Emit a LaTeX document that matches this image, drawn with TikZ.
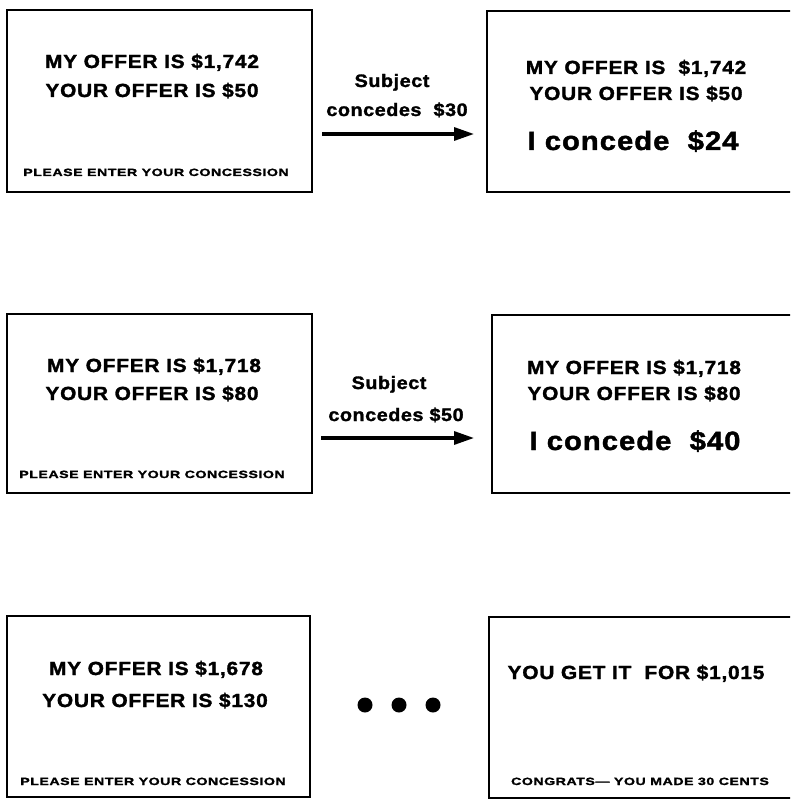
\documentclass[tikz,border=0pt]{standalone}
\usepackage{fontspec}
\setmainfont{Liberation Sans}
\newfontfamily\bigf[FakeStretch=1.1,LetterSpace=4,FakeBold=1.6]{Liberation Sans}
\newfontfamily\subf[FakeStretch=1.1,LetterSpace=3,FakeBold=1.6]{Liberation Sans}
\newfontfamily\smallf[FakeStretch=1.35,LetterSpace=5,FakeBold=1.6]{Liberation Sans}
\usetikzlibrary{arrows.meta}
\begin{document}
\begin{tikzpicture}[x=1pt,y=-1pt,
  screen/.style={draw,line width=2.8pt,rectangle,inner sep=0pt},
  big/.style={anchor=base,inner sep=0pt,font=\bigf\bfseries\fontsize{19}{19}\selectfont},
  huge/.style={anchor=base,inner sep=0pt,font=\bigf\bfseries\fontsize{26.5}{26.5}\selectfont},
  sub/.style={anchor=base,inner sep=0pt,font=\subf\bfseries\fontsize{18}{18}\selectfont},
  tiny/.style={anchor=base,inner sep=0pt,font=\smallf\bfseries\fontsize{10.5}{10.5}\selectfont},
  conn/.style={line width=3.2pt,-{Triangle[length=20pt,width=13pt]}},
  dot/.style={circle,fill,inner sep=0pt,minimum size=15pt}]
\useasboundingbox (0,0) rectangle (790,799);
\clip (0,0) rectangle (790,799);
% screens
\node[screen,minimum width=305pt,minimum height=182pt] (b1) at (159.5,101) {};
\node[screen,minimum width=313pt,minimum height=181pt] (b2) at (643.5,101.5) {};
\node[screen,minimum width=305pt,minimum height=179pt] (b3) at (159.5,403.5) {};
\node[screen,minimum width=308pt,minimum height=178pt] (b4) at (646,404) {};
\node[screen,minimum width=303pt,minimum height=181pt] (b5) at (158.5,706.5) {};
\node[screen,minimum width=311pt,minimum height=181pt] (b6) at (644.5,707.5) {};
% row 1
\node[big] (t11) at (152,68) {MY OFFER IS \$1,742};
\node[big] (t12) at (152,97) {YOUR OFFER IS \$50};
\node[tiny] (t13) at (156,176) {PLEASE ENTER YOUR CONCESSION};
\node[sub] (s11) at (392,87) {Subject};
\node[sub] (s12) at (397,116) {concedes \ \$30};
\coordinate (a1s) at (322,134);
\coordinate (a1e) at (474,134);
\draw[conn] (a1s) -- (a1e);
\node[big] (t21) at (636,74) {MY OFFER IS \ \$1,742};
\node[big] (t22) at (636,100) {YOUR OFFER IS \$50};
\node[huge] (t23) at (633,150) {I concede \ \$24};
% row 2
\node[big] (t31) at (154,372) {MY OFFER IS \$1,718};
\node[big] (t32) at (152,400) {YOUR OFFER IS \$80};
\node[tiny] (t33) at (152,478) {PLEASE ENTER YOUR CONCESSION};
\node[sub] (s21) at (389,389) {Subject};
\node[sub] (s22) at (396,421) {concedes \$50};
\coordinate (a2s) at (321,438);
\coordinate (a2e) at (474,438);
\draw[conn] (a2s) -- (a2e);
\node[big] (t41) at (634,374) {MY OFFER IS \$1,718};
\node[big] (t42) at (634,400) {YOUR OFFER IS \$80};
\node[huge] (t43) at (635,450) {I concede \ \$40};
% row 3
\node[big] (t51) at (156,675) {MY OFFER IS \$1,678};
\node[big] (t52) at (155,707) {YOUR OFFER IS \$130};
\node[tiny] (t53) at (153,785) {PLEASE ENTER YOUR CONCESSION};
\node[dot] (d1) at (365,705) {};
\node[dot] (d2) at (399,705) {};
\node[dot] (d3) at (433,705) {};
\node[big] (t61) at (636,679) {YOU GET IT \ FOR \$1,015};
\node[tiny] (t62) at (640,785) {CONGRATS— YOU MADE 30 CENTS};
\end{tikzpicture}
\end{document}
